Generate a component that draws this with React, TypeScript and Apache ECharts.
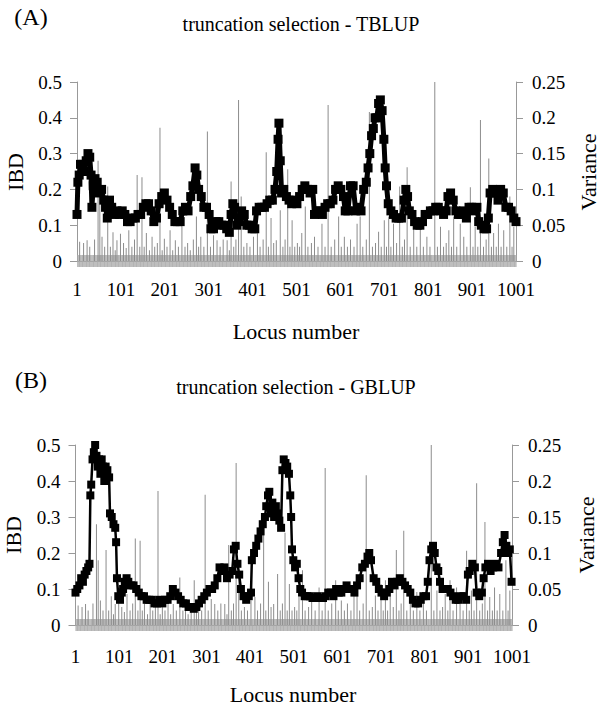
import React, { useEffect, useRef } from "react";
import * as echarts from "echarts";

// Locus positions / IBD values, panel A (TBLUP)
const ibdA: [number, number][] = [
  [1, 0.13], [3, 0.22], [6, 0.24], [9, 0.27], [14, 0.27], [18, 0.25], [22, 0.28], [26, 0.3], [30, 0.29], [33, 0.24],
  [35, 0.15], [38, 0.21], [42, 0.23], [47, 0.22], [52, 0.19], [57, 0.2], [62, 0.17], [66, 0.15], [70, 0.12], [75, 0.17],
  [80, 0.15], [86, 0.13], [92, 0.14], [98, 0.13], [104, 0.14], [110, 0.13], [116, 0.11], [122, 0.11], [128, 0.12], [134, 0.12],
  [140, 0.13], [146, 0.13], [152, 0.15], [158, 0.16], [164, 0.16], [170, 0.14], [176, 0.11], [182, 0.12], [188, 0.16], [194, 0.18],
  [200, 0.19], [206, 0.17], [212, 0.15], [218, 0.13], [224, 0.11], [230, 0.11], [236, 0.11], [242, 0.14], [248, 0.15], [254, 0.14],
  [260, 0.18], [265, 0.21], [270, 0.26], [274, 0.24], [278, 0.2], [284, 0.18], [290, 0.15], [296, 0.15], [302, 0.13], [306, 0.09],
  [312, 0.09], [318, 0.11], [324, 0.11], [330, 0.1], [336, 0.1], [342, 0.09], [348, 0.08], [352, 0.13], [356, 0.16], [360, 0.15],
  [365, 0.1], [370, 0.11], [376, 0.14], [382, 0.13], [388, 0.1], [394, 0.1], [400, 0.09], [406, 0.09], [410, 0.14], [416, 0.15],
  [422, 0.15], [428, 0.15], [434, 0.16], [440, 0.17], [446, 0.17], [452, 0.2], [456, 0.25], [459, 0.34], [461, 0.385], [464, 0.28],
  [467, 0.19], [472, 0.2], [478, 0.18], [484, 0.17], [490, 0.16], [496, 0.17], [502, 0.16], [508, 0.18], [514, 0.2], [520, 0.21],
  [526, 0.2], [532, 0.19], [538, 0.2], [542, 0.13], [548, 0.14], [554, 0.14], [560, 0.13], [566, 0.15], [572, 0.16], [578, 0.16],
  [584, 0.17], [590, 0.2], [596, 0.21], [602, 0.2], [608, 0.18], [612, 0.14], [618, 0.14], [624, 0.21], [630, 0.21], [636, 0.14],
  [642, 0.15], [648, 0.14], [654, 0.2], [660, 0.22], [664, 0.26], [668, 0.3], [672, 0.35], [676, 0.37], [680, 0.4], [684, 0.4],
  [688, 0.44], [692, 0.45], [696, 0.42], [700, 0.34], [703, 0.26], [706, 0.21], [710, 0.16], [716, 0.14], [722, 0.13], [728, 0.12],
  [734, 0.12], [740, 0.12], [746, 0.17], [750, 0.2], [754, 0.18], [758, 0.14], [764, 0.13], [770, 0.11], [776, 0.1], [782, 0.1],
  [788, 0.11], [794, 0.13], [800, 0.13], [806, 0.14], [812, 0.14], [818, 0.15], [824, 0.15], [830, 0.14], [836, 0.13], [842, 0.14],
  [846, 0.18], [852, 0.19], [858, 0.17], [864, 0.14], [870, 0.13], [876, 0.13], [882, 0.14], [888, 0.12], [894, 0.15], [900, 0.15],
  [906, 0.14], [912, 0.15], [916, 0.11], [922, 0.1], [928, 0.09], [934, 0.09], [938, 0.12], [942, 0.19], [948, 0.2], [954, 0.19],
  [960, 0.17], [966, 0.2], [972, 0.19], [978, 0.15], [984, 0.15], [990, 0.14], [996, 0.12], [1001, 0.11],
];

// Locus positions / IBD values, panel B (GBLUP)
const ibdB: [number, number][] = [
  [1, 0.09], [5, 0.1], [10, 0.11], [14, 0.13], [18, 0.12], [22, 0.14], [26, 0.15], [30, 0.16], [33, 0.17], [35, 0.36],
  [37, 0.39], [40, 0.46], [43, 0.48], [46, 0.5], [49, 0.47], [52, 0.44], [55, 0.46], [58, 0.42], [61, 0.46], [64, 0.44],
  [67, 0.4], [70, 0.44], [74, 0.43], [78, 0.41], [80, 0.31], [84, 0.3], [88, 0.28], [92, 0.27], [94, 0.23], [96, 0.13],
  [99, 0.08], [103, 0.07], [107, 0.09], [110, 0.1], [114, 0.12], [118, 0.13], [122, 0.12], [128, 0.11], [134, 0.11], [140, 0.1],
  [146, 0.09], [152, 0.08], [158, 0.08], [164, 0.07], [170, 0.07], [176, 0.07], [182, 0.06], [188, 0.06], [194, 0.07], [200, 0.06],
  [206, 0.07], [212, 0.07], [218, 0.08], [224, 0.1], [230, 0.09], [236, 0.08], [242, 0.07], [248, 0.06], [254, 0.06], [260, 0.05],
  [266, 0.05], [272, 0.045], [278, 0.05], [284, 0.06], [290, 0.07], [296, 0.08], [302, 0.09], [308, 0.1], [314, 0.1], [320, 0.11],
  [326, 0.13], [331, 0.16], [336, 0.15], [342, 0.16], [348, 0.13], [354, 0.14], [360, 0.15], [364, 0.21], [368, 0.22], [372, 0.17],
  [376, 0.14], [380, 0.1], [386, 0.08], [392, 0.07], [398, 0.08], [403, 0.09], [405, 0.18], [410, 0.2], [415, 0.22], [420, 0.24],
  [425, 0.26], [430, 0.28], [435, 0.3], [438, 0.33], [442, 0.36], [445, 0.37], [448, 0.31], [452, 0.34], [456, 0.3], [460, 0.33],
  [464, 0.31], [468, 0.29], [472, 0.27], [475, 0.43], [478, 0.46], [482, 0.45], [486, 0.44], [490, 0.42], [493, 0.36], [495, 0.3],
  [497, 0.21], [500, 0.18], [504, 0.16], [508, 0.17], [512, 0.13], [516, 0.1], [520, 0.09], [526, 0.08], [532, 0.08], [538, 0.08],
  [544, 0.075], [550, 0.075], [556, 0.08], [562, 0.075], [568, 0.075], [574, 0.08], [580, 0.09], [586, 0.09], [592, 0.08], [598, 0.1],
  [604, 0.09], [610, 0.09], [616, 0.1], [622, 0.11], [628, 0.1], [634, 0.1], [640, 0.09], [646, 0.11], [652, 0.13], [658, 0.16],
  [664, 0.17], [670, 0.19], [674, 0.2], [678, 0.18], [684, 0.13], [690, 0.12], [696, 0.1], [702, 0.09], [708, 0.08], [714, 0.09],
  [720, 0.1], [726, 0.12], [732, 0.11], [738, 0.12], [744, 0.13], [750, 0.12], [756, 0.11], [762, 0.1], [768, 0.09], [774, 0.07],
  [780, 0.06], [786, 0.06], [792, 0.07], [798, 0.08], [804, 0.08], [808, 0.12], [812, 0.18], [816, 0.21], [820, 0.22], [824, 0.2],
  [828, 0.16], [832, 0.15], [836, 0.12], [842, 0.1], [848, 0.1], [854, 0.1], [860, 0.09], [866, 0.08], [872, 0.07], [878, 0.07],
  [884, 0.08], [890, 0.08], [896, 0.07], [900, 0.14], [904, 0.15], [910, 0.17], [916, 0.16], [920, 0.09], [926, 0.08], [932, 0.09],
  [936, 0.13], [940, 0.16], [946, 0.17], [952, 0.15], [958, 0.16], [964, 0.17], [970, 0.16], [976, 0.2], [980, 0.23], [984, 0.25],
  [988, 0.22], [992, 0.2], [996, 0.21], [1000, 0.12],
];

// Locus positions / variance (right axis), same in both panels
const variance: [number, number][] = [
  [7, 0.027], [16, 0.025], [24, 0.029], [30, 0.02], [41, 0.03], [49, 0.14], [53, 0.09], [58, 0.034], [64, 0.02], [71, 0.104],
  [77, 0.02], [83, 0.04], [88, 0.015], [92, 0.029], [100, 0.038], [107, 0.025], [113, 0.018], [119, 0.043], [126, 0.02], [132, 0.03],
  [138, 0.12], [144, 0.02], [149, 0.117], [154, 0.02], [159, 0.039], [166, 0.015], [172, 0.034], [178, 0.02], [184, 0.025], [190, 0.186],
  [195, 0.015], [200, 0.031], [206, 0.02], [213, 0.043], [219, 0.015], [225, 0.029], [232, 0.02], [240, 0.066], [247, 0.02], [253, 0.025],
  [259, 0.015], [266, 0.03], [273, 0.062], [278, 0.02], [283, 0.034], [290, 0.02], [298, 0.181], [305, 0.02], [312, 0.036], [320, 0.029],
  [327, 0.02], [334, 0.03], [343, 0.029], [348, 0.015], [352, 0.111], [358, 0.02], [363, 0.03], [369, 0.225], [375, 0.09], [381, 0.02],
  [388, 0.025], [395, 0.02], [403, 0.034], [412, 0.039], [418, 0.02], [425, 0.03], [432, 0.152], [437, 0.02], [443, 0.06], [449, 0.025],
  [455, 0.029], [464, 0.071], [470, 0.02], [475, 0.03], [481, 0.128], [486, 0.02], [491, 0.057], [497, 0.02], [503, 0.025], [508, 0.02],
  [513, 0.039], [521, 0.076], [527, 0.02], [535, 0.025], [542, 0.034], [550, 0.02], [559, 0.052], [566, 0.02], [573, 0.218], [580, 0.02],
  [588, 0.03], [597, 0.062], [603, 0.02], [610, 0.034], [617, 0.02], [624, 0.03], [632, 0.02], [639, 0.052], [646, 0.062], [652, 0.02],
  [660, 0.03], [667, 0.208], [674, 0.02], [681, 0.025], [688, 0.041], [694, 0.02], [701, 0.057], [706, 0.02], [711, 0.062], [716, 0.02],
  [722, 0.052], [729, 0.025], [736, 0.104], [742, 0.02], [747, 0.03], [753, 0.131], [760, 0.02], [768, 0.048], [775, 0.02], [783, 0.046],
  [790, 0.02], [798, 0.034], [805, 0.02], [816, 0.25], [822, 0.02], [829, 0.048], [836, 0.02], [842, 0.025], [848, 0.043], [854, 0.02],
  [859, 0.062], [866, 0.02], [874, 0.052], [882, 0.034], [889, 0.02], [897, 0.103], [903, 0.02], [908, 0.048], [914, 0.02], [920, 0.197],
  [927, 0.02], [933, 0.03], [939, 0.143], [945, 0.02], [950, 0.039], [956, 0.02], [961, 0.052], [967, 0.02], [973, 0.043], [980, 0.02],
  [987, 0.09], [992, 0.02], [996, 0.048],
];

const panelLetters = ["(A)", "(B)"];
const panelTitles = ["truncation selection - TBLUP", "truncation selection - GBLUP"];
const xName = "Locus number";
const yLeftName = "IBD";
const yRightName = "Variance";

const FONT = "Liberation Serif";
const GRAY = "#999999";

export default function App() {
  const ref = useRef<HTMLDivElement>(null);

  useEffect(() => {
    if (!ref.current) return;
    const chart = echarts.init(ref.current, undefined, { renderer: "svg" });

    const panels = [
      { grid: { left: 77, top: 82, width: 439, height: 179 }, labelMargin: 19, letterY: 17, titleX: 301, titleY: 24, nameY: 172, xNameX: 296, xNameY: 331, ibd: ibdA, varX: 588, ibdX: 15, sym: 9, lw: 5 },
      { grid: { left: 75.5, top: 445, width: 436.5, height: 180 }, labelMargin: 22, letterY: 380, titleX: 296, titleY: 387, nameY: 535, xNameX: 293, xNameY: 694, ibd: ibdB, varX: 586, ibdX: 13, sym: 8, lw: 2.5 },
    ];

    const grids: any[] = [];
    const xAxes: any[] = [];
    const yAxes: any[] = [];
    const series: any[] = [];
    const graphics: any[] = [];
    const labelStyle = { fontFamily: FONT, fontSize: 19, color: "#000" };

    panels.forEach((p, i) => {
      grids.push({ ...p.grid, containLabel: false });
      const xMain = xAxes.length;
      xAxes.push({
        type: "value", gridIndex: i, min: 1, max: 1001, interval: 100,
        axisLine: { show: true, lineStyle: { color: GRAY, width: 1 } },
        axisTick: { show: false },
        splitLine: { show: false },
        axisLabel: { ...labelStyle, margin: p.labelMargin, formatter: (v: number) => String(v) },
      });
      [true, false].forEach((inside) => {
        xAxes.push({
          type: "value", gridIndex: i, min: 1, max: 1001, interval: 1, position: "bottom",
          axisLine: { show: false },
          axisLabel: { show: false },
          splitLine: { show: false },
          axisTick: { show: true, inside, length: 6, lineStyle: { color: "#a9a9a9", width: 0.5 } },
        });
      });
      const yLeft = yAxes.length;
      yAxes.push({
        type: "value", gridIndex: i, min: 0, max: 0.5, interval: 0.1, position: "left",
        axisLine: { show: true, lineStyle: { color: GRAY } },
        axisTick: { show: true, length: 7, lineStyle: { color: GRAY } },
        splitLine: { show: false },
        axisLabel: { ...labelStyle, margin: 15 },
      });
      const yRight = yAxes.length;
      yAxes.push({
        type: "value", gridIndex: i, min: 0, max: 0.25, interval: 0.05, position: "right",
        axisLine: { show: true, lineStyle: { color: GRAY } },
        axisTick: { show: true, length: 7, lineStyle: { color: GRAY } },
        splitLine: { show: false },
        axisLabel: { ...labelStyle, margin: 16 },
      });
      series.push({
        type: "bar", xAxisIndex: xMain, yAxisIndex: yRight, data: variance,
        barWidth: 1, itemStyle: { color: "#8c8c8c" }, z: 1,
      });
      series.push({
        type: "line", xAxisIndex: xMain, yAxisIndex: yLeft, data: p.ibd,
        symbol: "rect", symbolSize: p.sym, showSymbol: true,
        lineStyle: { color: "#000", width: p.lw }, itemStyle: { color: "#000" }, z: 3,
      });

      const txt = (text: string, x: number, y: number, size: number, rot = 0) => ({
        type: "text", x, y, rotation: rot,
        style: { text, fontFamily: FONT, fontSize: size, fill: "#000", align: "center", verticalAlign: "middle" },
      });
      graphics.push(txt(panelLetters[i], 31, p.letterY, 24));
      graphics.push(txt(panelTitles[i], p.titleX, p.titleY, 20));
      graphics.push(txt(yLeftName, p.ibdX, p.nameY, 22, Math.PI / 2));
      graphics.push(txt(yRightName, p.varX, p.nameY, 22, Math.PI / 2));
      graphics.push(txt(xName, p.xNameX, p.xNameY, 22));
    });

    chart.setOption({
      animation: false,
      backgroundColor: "#fff",
      grid: grids,
      xAxis: xAxes,
      yAxis: yAxes,
      series,
      graphic: graphics,
    });

    return () => chart.dispose();
  }, []);

  return <div ref={ref} style={{ position: "fixed", left: 0, top: 0, width: 600, height: 706, background: "#fff" }} />;
}
